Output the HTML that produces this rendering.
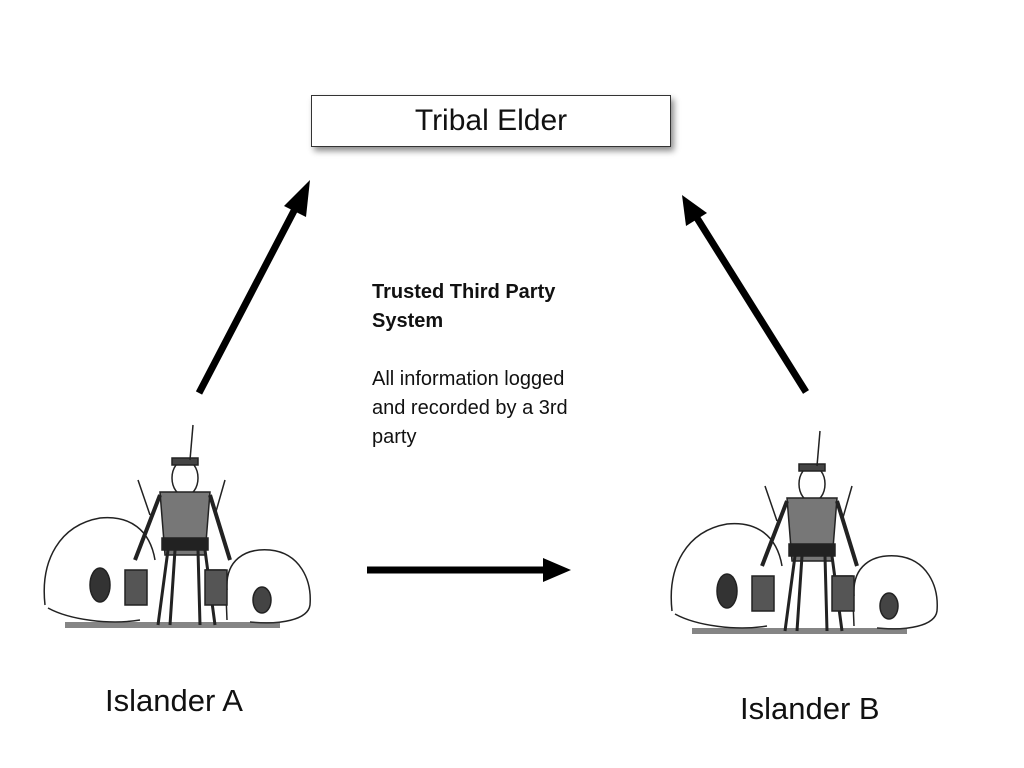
<!DOCTYPE html>
<html><head><style>
body{margin:0;width:1024px;height:768px;background:#fff;position:relative;overflow:hidden;font-family:"Liberation Sans",sans-serif}
.box{position:absolute;left:311px;top:95px;width:358px;height:50px;border:1px solid #333;background:#fff;box-shadow:3px 4px 6px rgba(0,0,0,.45);text-align:center;line-height:50px;font-size:30px;color:#111}
.t{position:absolute;left:372px;font-size:20px;color:#111;line-height:29px}
.lab{position:absolute;font-size:31px;color:#111}
</style></head><body>
<div class="box">Tribal Elder</div>
<div class="t" style="top:278px;font-weight:bold">Trusted Third Party<br>System</div>
<div class="t" style="top:365px">All information logged<br>and recorded by a 3rd<br>party</div>
<div class="lab" style="left:105px;top:683px">Islander A</div>
<div class="lab" style="left:740px;top:691px">Islander B</div>
<svg width="1024" height="768" style="position:absolute;left:0;top:0">
<defs>
<g id="isl" fill="none" stroke="#222" stroke-width="1.5">
<path d="M5,185 C0,140 20,105 60,98 C90,95 110,110 115,140" />
<path d="M8,188 C30,200 70,205 100,200"/>
<ellipse cx="60" cy="165" rx="10" ry="17" fill="#333"/>
<path d="M187,170 C185,140 205,128 230,130 C260,133 272,160 270,185 C268,200 240,205 210,202"/>
<ellipse cx="222" cy="180" rx="9" ry="13" fill="#444"/>
<path d="M165,150 L185,150 L187,200"/>
<path d="M25,205 L240,205" stroke="#333" stroke-width="6" opacity=".6"/>
<ellipse cx="145" cy="58" rx="13" ry="18" fill="#fff"/>
<path d="M132,45 L158,45 L158,38 L132,38 Z" fill="#444"/>
<path d="M150,40 L153,5" />
<path d="M120,72 L170,72 L165,135 L125,135 Z" fill="#777"/>
<path d="M122,118 L168,118 L168,130 L122,130 Z" fill="#222"/>
<path d="M128,130 L118,205 M135,130 L130,205 M158,130 L160,205 M165,130 L175,205" stroke-width="3"/>
<path d="M120,75 L95,140 M170,75 L190,140" stroke-width="4"/>
<rect x="85" y="150" width="22" height="35" fill="#555"/>
<rect x="165" y="150" width="22" height="35" fill="#555"/>
<path d="M98,60 L110,95 M185,60 L175,95" />
</g>
</defs>
<use href="#isl" transform="translate(40,420)"/>
<use href="#isl" transform="translate(667,426)"/>
<g stroke="#000" stroke-width="7" fill="#000">
<line x1="199" y1="393" x2="296" y2="207"/>
<polygon points="310,180 284,206 306,217" stroke="none"/>
<line x1="806" y1="392" x2="697" y2="218"/>
<polygon points="682,195 686,226 707,213" stroke="none"/>
<line x1="367" y1="570" x2="545" y2="570"/>
<polygon points="571,570 543,558 543,582" stroke="none"/>
</g>
</svg>
</body></html>
